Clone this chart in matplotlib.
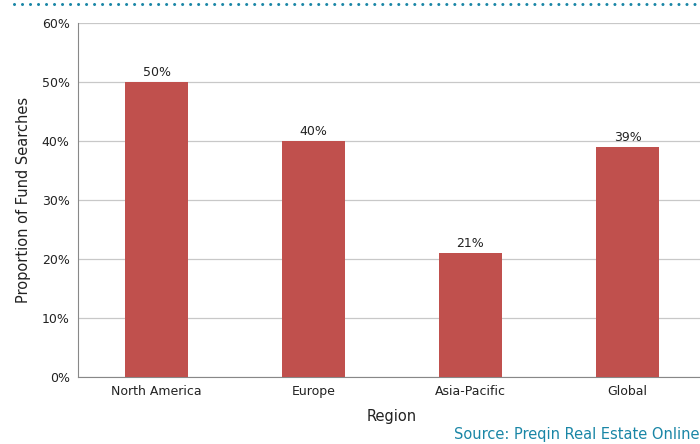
import numpy as np
import matplotlib.pyplot as plt
from matplotlib.lines import Line2D

regions = ["North America", "Europe", "Asia-Pacific", "Global"]
shares = [50, 40, 21, 39]
yticks = [0, 10, 20, 30, 40, 50, 60]

fig = plt.figure(figsize=(7, 4.44), dpi=100)
ax = fig.add_axes([78 / 700, 67 / 444, 628 / 700, 354 / 444])

x = np.arange(len(regions))
ax.bar(x, shares, width=0.4, color="#C0504D", zorder=3)
for xi, v in zip(x, shares):
    ax.text(xi, v + 0.5, f"{v}%", ha="center", va="bottom", fontsize=9, color="#222222")

ax.set_xlim(-0.5, len(regions) - 0.5)
ax.set_ylim(0, 60)
ax.set_yticks(yticks)
ax.set_yticklabels([f"{t}%" for t in yticks], fontsize=9, color="#222222")
ax.set_xticks(x)
ax.set_xticklabels(regions, fontsize=9, color="#222222")
ax.tick_params(axis="both", length=0, pad=6)
ax.grid(axis="y", color="#c8c8c8", linewidth=0.9, zorder=0)
for side in ["top", "right"]:
    ax.spines[side].set_visible(False)
ax.spines["left"].set_color("#888888")
ax.spines["bottom"].set_color("#888888")

ax.set_ylabel("Proportion of Fund Searches", fontsize=10.5, color="#222222", labelpad=8)
ax.set_xlabel("Region", fontsize=10.5, color="#222222", labelpad=8)

# dotted rule along the top
fig.add_artist(Line2D([14 / 700, 1.0], [1 - 4.5 / 444, 1 - 4.5 / 444], transform=fig.transFigure,
                      color="#1a86a6", linestyle=(0, (0.01, 2.61)), linewidth=2.2,
                      dash_capstyle="round"))

fig.text(1.0, 10 / 444, "Source: Preqin Real Estate Online", ha="right", va="center",
         fontsize=10.5, color="#1a86a6")

fig.savefig("out.png", dpi=100)
